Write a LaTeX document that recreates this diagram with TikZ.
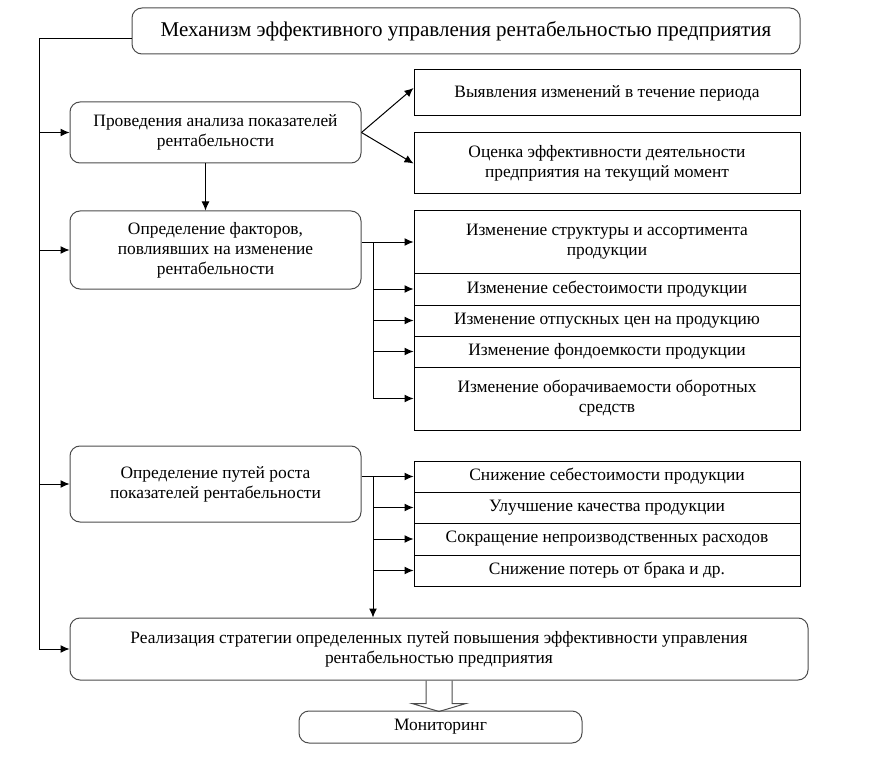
\documentclass[tikz,border=0pt]{standalone}
\usepackage{fontspec}
\setmainfont{Liberation Serif}
\usetikzlibrary{positioning,arrows.meta}

\begin{document}
\begin{tikzpicture}[>={Latex[length=9pt,width=8pt]},x=1pt,y=-1pt,
	rbox/.style={draw=black!70,line width=1pt,rounded corners=10pt,inner sep=0pt,align=center,
		font=\fontsize{17.4}{20}\selectfont},
	sbox/.style={draw,line width=1pt,inner sep=0pt,align=center,minimum width=386pt,
		font=\fontsize{17.4}{20}\selectfont},
	conn/.style={line width=1pt}]
	\useasboundingbox (0,0) rectangle (887,757);
	% title and left column
	\node[rbox,minimum width=668pt,minimum height=46pt,font=\fontsize{21}{24}\selectfont] (title) at (466,31)
		{Механизм эффективного управления рентабельностью предприятия};
	\node[rbox,minimum width=291pt,minimum height=61pt] (anal) at (215.5,132.5)
		{Проведения анализа показателей\\рентабельности};
	\node[rbox,minimum width=291pt,minimum height=78pt] (fact) at (215.5,250)
		{Определение факторов,\\повлиявших на изменение\\рентабельности};
	\node[rbox,minimum width=291pt,minimum height=76pt] (path) at (215.5,484)
		{Определение путей роста\\показателей рентабельности};
	\node[rbox,minimum width=738pt,minimum height=62pt] (real) at (439,649)
		{Реализация стратегии определенных путей повышения эффективности управления\\рентабельностью предприятия};
	\node[rbox,minimum width=283pt,minimum height=32pt] (mon) at (440.5,727) {Мониторинг};
	% right column
	\node[sbox,minimum height=46pt] (r1) at (607,93) {Выявления изменений в течение периода};
	\node[sbox,minimum height=61pt] (r2) at (607,163.5) {Оценка эффективности деятельности\\предприятия на текущий момент};
	\node[sbox,minimum height=62pt] (f1) at (607,242) {Изменение структуры и ассортимента\\продукции};
	\node[sbox,minimum height=32pt] (f2) at (607,289) {Изменение себестоимости продукции};
	\node[sbox,minimum height=31pt] (f3) at (607,320.5) {Изменение отпускных цен на продукцию};
	\node[sbox,minimum height=31pt] (f4) at (607,351.5) {Изменение фондоемкости продукции};
	\node[sbox,minimum height=63pt] (f5) at (607,398.5) {Изменение оборачиваемости оборотных\\средств};
	\node[sbox,minimum height=31pt] (p1) at (607,476.5) {Снижение себестоимости продукции};
	\node[sbox,minimum height=31pt] (p2) at (607,507.5) {Улучшение качества продукции};
	\node[sbox,minimum height=32pt] (p3) at (607,539) {Сокращение непроизводственных расходов};
	\node[sbox,minimum height=31pt] (p4) at (607,570.5) {Снижение потерь от брака и др.};
	% left trunk
	\coordinate (trunk) at (39,39);
	\draw[conn] (title.west |- trunk) -- (trunk) -- (trunk |- real.west);
	\foreach \n in {anal,fact,path,real}
		{\draw[conn,->] (trunk |- \n.west) -- (\n.west);
		};
	% analysis
	\draw[conn,->] (anal.east) -- ([yshift=5pt]r1.west);
	\draw[conn,->] (anal.east) -- (r2.west);
	\draw[conn,->] ([xshift=-10pt]anal.south) -- ([xshift=-10pt]fact.north);
	% factors
	\coordinate (fj) at (373,242);
	\draw[conn,->] (fact.east |- f1.west) -- (f1.west);
	\draw[conn] (fj) -- (fj |- f5.west);
	\foreach \n in {f2,f3,f4,f5}
		{\draw[conn,->] (fj |- \n.west) -- (\n.west);
		};
	% ways
	\coordinate (pj) at (373,476.5);
	\draw[conn,->] (path.east |- p1.west) -- (p1.west);
	\draw[conn,->] (pj) -- (pj |- real.north);
	\foreach \n in {p2,p3,p4}
		{\draw[conn,->] (pj |- \n.west) -- (\n.west);
		};
	% hollow arrow to monitoring
	\draw[line width=1pt,draw=black!70] ([xshift=-13pt]real.south) -- ++(0,23) -- ++(-14,0) -- ++(27,8)
		-- ++(27,-8) -- ++(-14,0) -- ([xshift=13pt]real.south);
\end{tikzpicture}
\end{document}
